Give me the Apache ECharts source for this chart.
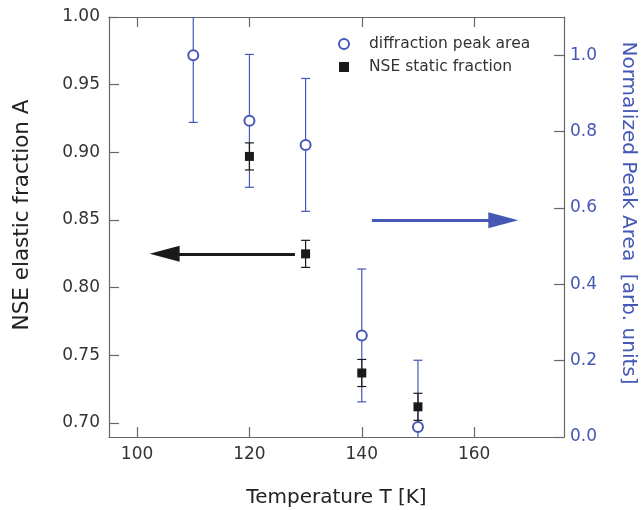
<!DOCTYPE html>
<html>
<head>
<meta charset="utf-8">
<script src="https://cdn.jsdelivr.net/npm/echarts@6/dist/echarts.min.js"></script>
<style>
html,body{margin:0;padding:0;background:#fff;}
#chart{width:643px;height:510px;}
</style>
</head>
<body>
<div id="chart"></div>
<script>
// ---- data ----
const diffTemps = [110, 120, 130, 140, 150];
const diffArea  = [1.000, 0.828, 0.765, 0.266, 0.026];
const diffErr   = [0.176, 0.174, 0.174, 0.174, 0.175];

const nseTemps = [120, 130, 140, 150];
const nseFrac  = [0.897, 0.825, 0.737, 0.712];
const nseErr   = [0.010, 0.010, 0.010, 0.010];

const xTicks      = [100, 120, 140, 160];
const leftTicks   = [0.70, 0.75, 0.80, 0.85, 0.90, 0.95, 1.00];
const rightTicks  = [0.0, 0.2, 0.4, 0.6, 0.8, 1.0];

// annotation arrows: [startT, endT, yValue]
const blackArrow = [128.1, 104.9, 0.825];   // left axis
const blueArrow  = [141.8, 165.2, 0.568];   // right axis

const BLUE = '#4558b5';
const BLACK = '#1a1a1a';
const AXIS = '#666666';
const FONT = 'DejaVu Sans';

function errRender(color) {
  return function (params, api) {
    const x = api.value(0), y = api.value(1), e = api.value(2);
    const t = api.coord([x, y + e]);
    const b = api.coord([x, y - e]);
    const hw = 4.5;
    const st = { stroke: color, lineWidth: 1.2 };
    return {
      type: 'group',
      children: [
        { type: 'line', shape: { x1: t[0], y1: t[1], x2: b[0], y2: b[1] }, style: st },
        { type: 'line', shape: { x1: t[0] - hw, y1: t[1], x2: t[0] + hw, y2: t[1] }, style: st },
        { type: 'line', shape: { x1: b[0] - hw, y1: b[1], x2: b[0] + hw, y2: b[1] }, style: st }
      ]
    };
  };
}

const chart = echarts.init(document.getElementById('chart'), null, { renderer: 'canvas' });

const option = {
  backgroundColor: '#ffffff',
  animation: false,
  textStyle: { fontFamily: FONT },
  grid: { left: 109, right: 79, top: 17, bottom: 73, containLabel: false, outerBoundsMode: 'none' },
  legend: {
    orient: 'vertical',
    left: 333,
    top: 31,
    itemWidth: 10,
    itemHeight: 10,
    itemGap: 7,
    selectedMode: false,
    textStyle: { fontFamily: FONT, fontSize: 15.5, color: '#333', padding: [0, 0, 0, 15], lineHeight: 15 },
    data: [
      { name: 'diffraction peak area', icon: 'emptyCircle', itemStyle: { color: BLUE, borderWidth: 1.2, opacity: 1 } },
      { name: 'NSE static fraction', icon: 'rect', itemStyle: { color: BLACK, opacity: 1 } }
    ]
  },
  xAxis: [
    {
      type: 'value', min: 95, max: 176, position: 'bottom',
      name: 'Temperature T [K]', nameLocation: 'middle', nameGap: 51,
      nameTextStyle: { fontFamily: FONT, fontSize: 20, color: '#222' },
      axisLine: { show: true, onZero: false, lineStyle: { color: AXIS, width: 1.2 } },
      axisTick: { show: true, inside: true, length: 10, customValues: xTicks, lineStyle: { color: AXIS, width: 1.2 } },
      axisLabel: { show: true, margin: 9, fontSize: 17, color: '#333', fontFamily: FONT, customValues: xTicks },
      splitLine: { show: false }
    },
    {
      type: 'value', min: 95, max: 176, position: 'top',
      axisLine: { show: true, onZero: false, lineStyle: { color: AXIS, width: 1.2 } },
      axisTick: { show: true, inside: true, length: 10, customValues: xTicks, lineStyle: { color: AXIS, width: 1.2 } },
      axisLabel: { show: false },
      splitLine: { show: false }
    }
  ],
  yAxis: [
    {
      type: 'value', min: 0.6897, max: 1.0, position: 'left',
      name: 'NSE elastic fraction A', nameLocation: 'middle', nameGap: 76, nameRotate: 90,
      nameTextStyle: { fontFamily: FONT, fontSize: 21.5, color: '#222', padding: [0, 0, 0, 24] },
      axisLine: { show: true, onZero: false, lineStyle: { color: AXIS, width: 1.2 } },
      axisTick: { show: true, inside: true, length: 10, customValues: leftTicks, lineStyle: { color: AXIS, width: 1.2 } },
      axisLabel: { show: true, margin: 9, fontSize: 17, color: '#333', fontFamily: FONT, customValues: leftTicks,
        formatter: v => v.toFixed(2) },
      splitLine: { show: false }
    },
    {
      type: 'value', min: 0, max: 1.1, position: 'right',
      name: 'Normalized Peak Area  [arb. units]', nameLocation: 'middle', nameGap: 54, nameRotate: -90,
      nameTextStyle: { fontFamily: FONT, fontSize: 20, color: BLUE, padding: [0, 28, 0, 0] },
      axisLine: { show: true, onZero: false, lineStyle: { color: AXIS, width: 1.2 } },
      axisTick: { show: true, inside: true, length: 10, customValues: rightTicks, lineStyle: { color: AXIS, width: 1.2 } },
      axisLabel: { show: true, margin: 6, fontSize: 17, color: BLUE, fontFamily: FONT, customValues: rightTicks,
        formatter: v => v.toFixed(1) },
      splitLine: { show: false }
    }
  ],
  series: [
    {
      name: 'diffraction err', type: 'custom', xAxisIndex: 0, yAxisIndex: 1, clip: true, silent: true,
      renderItem: errRender(BLUE),
      data: diffTemps.map((t, i) => [t, diffArea[i], diffErr[i]]),
      z: 2
    },
    {
      name: 'diffraction peak area', type: 'scatter', xAxisIndex: 0, yAxisIndex: 1,
      symbol: 'emptyCircle', symbolSize: 10,
      itemStyle: { color: BLUE, borderWidth: 1.2, opacity: 1 },
      data: diffTemps.map((t, i) => [t, diffArea[i]]),
      markLine: {
        silent: true, symbol: ['none', 'triangle'], symbolSize: [16, 30],
        label: { show: false },
        lineStyle: { color: BLUE, width: 3, type: 'solid', opacity: 1 },
        itemStyle: { color: BLUE },
        data: [[{ coord: [blueArrow[0], blueArrow[2]] }, { coord: [blueArrow[1], blueArrow[2]] }]]
      },
      z: 3
    },
    {
      name: 'NSE err', type: 'custom', xAxisIndex: 0, yAxisIndex: 0, clip: true, silent: true,
      renderItem: errRender(BLACK),
      data: nseTemps.map((t, i) => [t, nseFrac[i], nseErr[i]]),
      z: 4
    },
    {
      name: 'NSE static fraction', type: 'scatter', xAxisIndex: 0, yAxisIndex: 0,
      symbol: 'rect', symbolSize: 9,
      itemStyle: { color: BLACK, opacity: 1 },
      data: nseTemps.map((t, i) => [t, nseFrac[i]]),
      markLine: {
        silent: true, symbol: ['none', 'triangle'], symbolSize: [16, 30],
        label: { show: false },
        lineStyle: { color: BLACK, width: 3, type: 'solid', opacity: 1 },
        itemStyle: { color: BLACK },
        data: [[{ coord: [blackArrow[0], blackArrow[2]] }, { coord: [blackArrow[1], blackArrow[2]] }]]
      },
      z: 5
    }
  ]
};
chart.setOption(option);
</script>
</body>
</html>
